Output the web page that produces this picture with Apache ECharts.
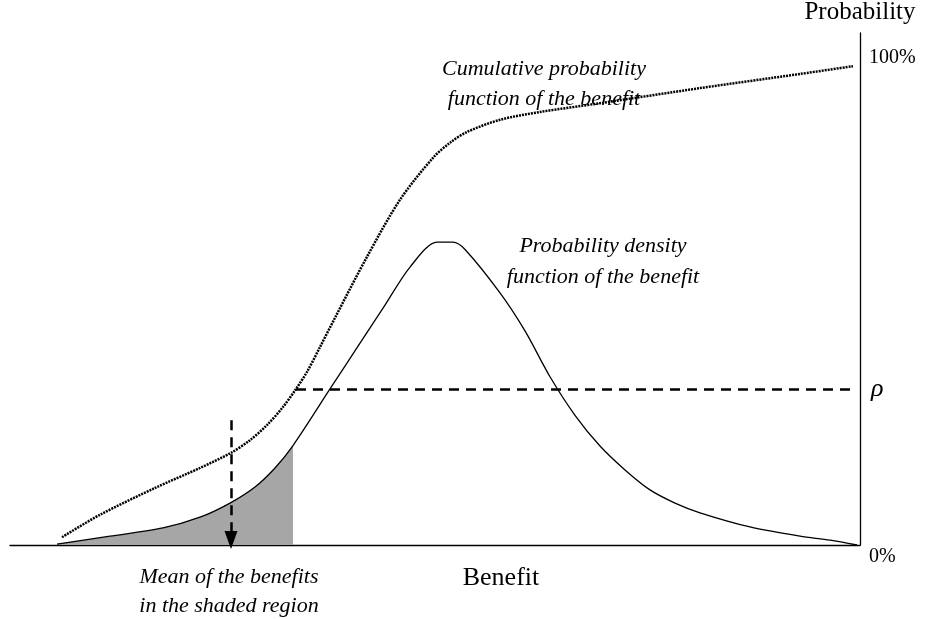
<!DOCTYPE html>
<html>
<head>
<meta charset="utf-8">
<script src="https://cdn.jsdelivr.net/npm/echarts@6/dist/echarts.min.js"></script>
<style>
  html, body { margin: 0; padding: 0; background: #fff; }
  #chart { width: 925px; height: 619px; }
</style>
</head>
<body>
<div id="chart"></div>
<script>
// benefit (arbitrary units), probability in %
const pdfPoints = [
  [47, 0.2], [100, 1.8], [153, 3.5], [190, 5.7], [220, 8.6], [245, 11.9],
  [265, 15.8], [283, 20.4], [320, 32.0], [350, 41.4], [375, 49.2], [400, 57.0],
  [427, 62.1], [443, 62.1], [455, 60.6], [490, 51.7], [515, 43.9], [540, 34.5],
  [565, 26.6], [590, 20.3], [615, 15.4], [640, 11.3], [665, 8.6], [690, 6.6],
  [740, 3.7], [790, 1.8], [820, 1.0], [847, 0]
]
const cdfPoints = [
  [52, 1.6], [90, 6.2], [145, 11.7], [190, 15.8], [221, 18.9], [240, 21.5],
  [257, 24.6], [273, 28.3], [286, 32.0], [297, 35.5], [310, 40.6], [325, 46.6],
  [357, 59.1], [390, 70.8], [423, 79.4], [440, 82.5], [457, 84.7], [490, 87.2],
  [530, 88.8], [590, 90.6], [690, 93.7], [790, 96.6], [843, 98.2]
]
const shadeEnd = 283 // benefit where shaded region stops
const rho = 32.0
const rhoBenefit = 286
const rhoLineEnd = 843
const meanBenefit = 221
const meanArrow = [25.6, 1.0]
const yTickLabels = { 0: '0%', 100: '100%' }

const serif = 'Liberation Serif'
const note = 'italic 22px "Liberation Serif"'
const shaded = pdfPoints.filter(p => p[0] <= shadeEnd)
const dashed = { color: '#000', width: 2.5, type: [10, 7] }

const chart = echarts.init(document.getElementById('chart'))
chart.setOption({
  animation: false,
  grid: { left: 10, right: 65, top: 33, bottom: 74, containLabel: false, outerBoundsMode: 'none' },
  xAxis: {
    type: 'value',
    min: 0,
    max: 850,
    name: 'Benefit',
    nameLocation: 'middle',
    nameGap: 20,
    nameTextStyle: { fontFamily: serif, fontSize: 26, color: '#000', padding: [0, 0, 0, 132] },
    axisLine: { show: true, onZero: false, lineStyle: { color: '#000', width: 1.3 } },
    axisTick: { show: false },
    axisLabel: { show: false },
    splitLine: { show: false }
  },
  yAxis: {
    type: 'value',
    position: 'right',
    min: 0,
    max: 105,
    interval: 100,
    name: 'Probability',
    nameLocation: 'end',
    nameGap: 8,
    nameTextStyle: { fontFamily: serif, fontSize: 25, color: '#000', align: 'center' },
    axisLine: { show: true, onZero: false, lineStyle: { color: '#000', width: 1.3 } },
    axisTick: { show: false },
    axisLabel: {
      showMaxLabel: false,
      margin: 9,
      formatter: v => v === 0 ? '{low|' + yTickLabels[0] + '}' : (yTickLabels[v] || ''),
      fontFamily: serif,
      fontSize: 20,
      color: '#000',
      rich: { low: { fontFamily: serif, fontSize: 20, color: '#000', padding: [24, 0, 0, 0] } }
    },
    splitLine: { show: false }
  },
  series: [
    {
      type: 'line',
      data: shaded,
      smooth: 0.25,
      symbol: 'none',
      lineStyle: { width: 0 },
      areaStyle: { color: '#a6a6a6', opacity: 1 },
      z: 1
    },
    {
      type: 'line',
      data: pdfPoints,
      smooth: 0.3,
      symbol: 'none',
      lineStyle: { color: '#000', width: 1.3 },
      z: 3
    },
    {
      type: 'line',
      data: cdfPoints,
      smooth: 0.3,
      symbol: 'none',
      lineStyle: { color: '#000', width: 2.5, type: [2, 1] },
      z: 3,
      clip: false,
      markLine: {
        silent: true,
        symbol: 'none',
        lineStyle: dashed,
        label: { show: false },
        data: [
          [{ coord: [rhoBenefit, rho] }, { coord: [rhoLineEnd, rho],
            label: { show: true, position: 'end', formatter: 'ρ', distance: 18,
              fontFamily: serif, fontStyle: 'italic', fontSize: 26, color: '#000' } }],
          [{ coord: [rhoBenefit, rho] }, { coord: [rhoBenefit, -1.5] }],
          [{ coord: [meanBenefit, meanArrow[0]], symbol: 'none' },
           { coord: [meanBenefit, meanArrow[1]], symbol: 'triangle', symbolSize: [13, 18], symbolRotate: 180 }]
        ]
      }
    }
  ],
  graphic: [
    { type: 'text', x: 544, y: 54, style: { text: 'Cumulative probability\nfunction of the benefit',
      font: note, fill: '#000', align: 'center', verticalAlign: 'top', lineHeight: 30 } },
    { type: 'text', x: 603, y: 231, style: { text: 'Probability density\nfunction of the benefit',
      font: note, fill: '#000', align: 'center', verticalAlign: 'top', lineHeight: 31 } },
    { type: 'text', x: 229, y: 563, style: { text: 'Mean of the benefits\nin the shaded region',
      font: note, fill: '#000', align: 'center', verticalAlign: 'top', lineHeight: 29 } }
  ]
})
</script>
</body>
</html>
